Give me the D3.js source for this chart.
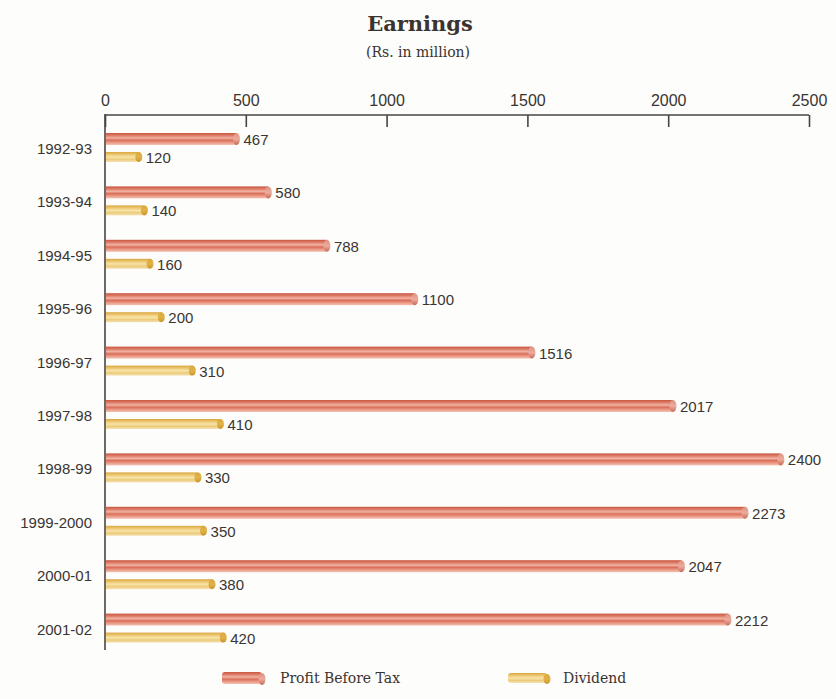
<!DOCTYPE html>
<html>
<head>
<meta charset="utf-8">
<script src="https://cdn.jsdelivr.net/npm/d3@7"></script>
<style>
  html, body { margin: 0; padding: 0; background: #fdfdfb; }
  svg { display: block; }
</style>
</head>
<body>
<svg id="chart" width="836" height="699"></svg>
<script>
// Earnings, Rs. in million
const years = ["1992-93", "1993-94", "1994-95", "1995-96", "1996-97",
               "1997-98", "1998-99", "1999-2000", "2000-01", "2001-02"];
const profitBeforeTax = [467, 580, 788, 1100, 1516, 2017, 2400, 2273, 2047, 2212];
const dividend = [120, 140, 160, 200, 310, 410, 330, 350, 380, 420];
const xTicks = [0, 500, 1000, 1500, 2000, 2500];
const seriesNames = ["Profit Before Tax", "Dividend"];

const svg = d3.select("#chart");

const x = d3.scaleLinear().domain([0, 2500]).range([105, 809]);
const y = d3.scaleBand().domain(years).range([115, 649]);

const serif = "'DejaVu Serif', 'Liberation Serif', serif";
const sans = "'Liberation Sans', Arial, sans-serif";

// cylinder-like gradients for the two series
const defs = svg.append("defs");
function grad(id, stops) {
  const g = defs.append("linearGradient").attr("id", id)
    .attr("x1", 0).attr("y1", 0).attr("x2", 0).attr("y2", 1);
  stops.forEach(([o, c]) => g.append("stop").attr("offset", o).attr("stop-color", c));
}
grad("gProfit", [[0, "#c8563f"], [0.2, "#dc7a66"], [0.42, "#f2b3a2"], [0.6, "#d96e5a"],
                 [0.8, "#eb9a87"], [1, "#f4c3b5"]]);
grad("gDiv", [[0, "#d9a640"], [0.25, "#ecc670"], [0.5, "#f7e4a8"], [0.75, "#eccb7c"],
              [1, "#f6e3b4"]]);
grad("gProfitCap", [[0, "#dc917f"], [0.5, "#ecac9d"], [1, "#c86a58"]]);
grad("gDivCap", [[0, "#d8a838"], [0.5, "#e2b24a"], [1, "#c8962a"]]);

const series = [
  { name: seriesNames[0], values: profitBeforeTax, off: 24, h: 12, fill: "url(#gProfit)", cap: "url(#gProfitCap)" },
  { name: seriesNames[1], values: dividend, off: 42, h: 10, fill: "url(#gDiv)", cap: "url(#gDivCap)" }
];

// title
svg.append("text").attr("x", 420).attr("y", 31).attr("text-anchor", "middle")
  .style("font-family", serif).style("font-weight", "bold")
  .style("font-size", "21px").attr("fill", "#3a3330").text("Earnings");
svg.append("text").attr("x", 418).attr("y", 57).attr("text-anchor", "middle")
  .style("font-family", serif)
  .style("font-size", "14px").attr("fill", "#3a3330").text("(Rs. in million)");

// top axis
const axis = d3.axisTop(x).tickValues(xTicks).tickSize(-12).tickPadding(9)
  .tickFormat(d3.format("d"));
const gAxis = svg.append("g").attr("transform", "translate(0,115)").call(axis);
gAxis.select(".domain").remove();
gAxis.append("line").attr("x1", x(0)).attr("x2", x(2500)).attr("y1", 0).attr("y2", 0)
  .attr("stroke", "#4a4440").attr("stroke-width", 1.6);
gAxis.selectAll(".tick line").attr("stroke", "#4a4440").attr("stroke-width", 1.6);
gAxis.selectAll(".tick text").style("font-family", sans)
  .style("font-size", "16px").attr("fill", "#3a3532");

// left axis line
svg.append("line").attr("x1", x(0)).attr("x2", x(0)).attr("y1", 114).attr("y2", 650)
  .attr("stroke", "#4a4440").attr("stroke-width", 1.6);

// category labels
svg.append("g").selectAll("text").data(years).join("text")
  .attr("x", 92).attr("y", d => y(d) + 33 + 6)
  .attr("text-anchor", "end")
  .style("font-family", sans).style("font-size", "15px")
  .attr("fill", "#3a3532").text(d => d);

// bars
series.forEach(s => {
  const g = svg.append("g");
  const rows = years.map((yr, i) => ({ yr, v: s.values[i] }));
  g.selectAll("rect").data(rows).join("rect")
    .attr("x", x(0) + 1)
    .attr("y", d => y(d.yr) + s.off - s.h / 2)
    .attr("width", d => x(d.v) - x(0) - 1)
    .attr("height", s.h)
    .attr("fill", s.fill);
  g.selectAll("ellipse").data(rows).join("ellipse")
    .attr("cx", d => x(d.v))
    .attr("cy", d => y(d.yr) + s.off)
    .attr("rx", 3.5).attr("ry", s.h / 2)
    .attr("fill", s.cap);
  g.selectAll("text").data(rows).join("text")
    .attr("x", d => x(d.v) + 7)
    .attr("y", d => y(d.yr) + s.off + 6)
    .style("font-family", sans).style("font-size", "15px")
    .attr("fill", "#3a3532").text(d => d.v);
});

// legend
const legend = [
  { s: series[0], x0: 222, x1: 262, tx: 280 },
  { s: series[1], x0: 508, x1: 547, tx: 563 }
];
legend.forEach(l => {
  const cy = 678;
  svg.append("rect").attr("x", l.x0).attr("y", cy - l.s.h / 2)
    .attr("width", l.x1 - l.x0).attr("height", l.s.h).attr("rx", 3)
    .attr("fill", l.s.fill);
  svg.append("ellipse").attr("cx", l.x1).attr("cy", cy + 1).attr("rx", 3.5).attr("ry", l.s.h / 2)
    .attr("fill", l.s.cap);
  svg.append("text").attr("x", l.tx).attr("y", cy + 5)
    .style("font-family", serif).style("font-size", "14px")
    .attr("fill", "#3a3330").text(l.s.name);
});
</script>
</body>
</html>
